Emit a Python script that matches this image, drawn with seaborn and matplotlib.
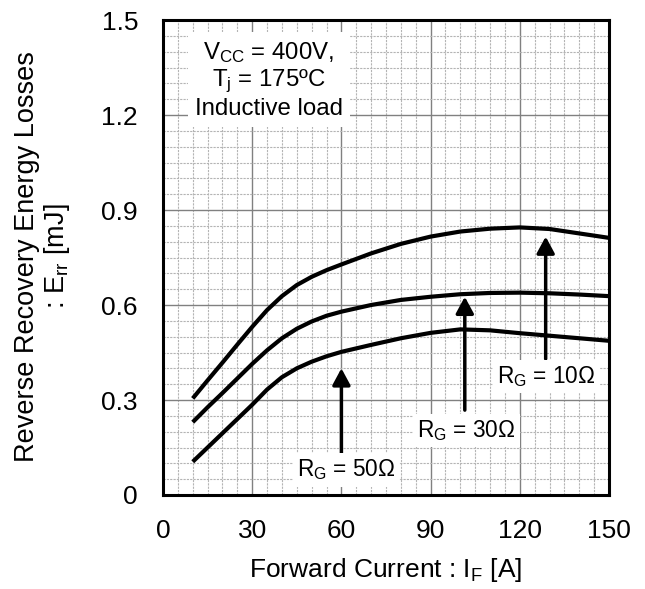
import numpy as np
import pandas as pd
import matplotlib
matplotlib.use("Agg")
import matplotlib.pyplot as plt
from matplotlib.ticker import MultipleLocator
import seaborn as sns

# Forward current (A) and reverse recovery energy (mJ) per gate resistance
forward_current = [10, 15, 20, 25, 30, 35, 40, 45, 50, 55, 60,
                   70, 80, 90, 100, 110, 120, 130, 140, 150]
err_rg10 = [0.305, 0.362, 0.418, 0.475, 0.531, 0.584, 0.628, 0.663, 0.689, 0.710, 0.728,
            0.763, 0.793, 0.816, 0.832, 0.841, 0.845, 0.840, 0.826, 0.812]
err_rg30 = [0.230, 0.277, 0.322, 0.368, 0.414, 0.457, 0.495, 0.525, 0.548, 0.566, 0.579,
            0.600, 0.616, 0.626, 0.634, 0.638, 0.639, 0.637, 0.633, 0.628]
err_rg50 = [0.105, 0.150, 0.195, 0.240, 0.285, 0.333, 0.372, 0.400, 0.421, 0.438, 0.452,
            0.474, 0.495, 0.512, 0.523, 0.520, 0.511, 0.503, 0.495, 0.487]
series_names = ["10", "30", "50"]

x_ticks = [0, 30, 60, 90, 120, 150]
y_ticks = [0, 0.3, 0.6, 0.9, 1.2, 1.5]
y_tick_labels = ["0", "0.3", "0.6", "0.9", "1.2", "1.5"]

sns.set_style("white")
plt.rcParams["font.family"] = ["Liberation Sans", "DejaVu Sans"]
plt.rcParams["mathtext.fontset"] = "custom"
plt.rcParams["mathtext.rm"] = "Liberation Sans"
plt.rcParams["mathtext.it"] = "Liberation Sans"
plt.rcParams["text.color"] = "black"
plt.rcParams["axes.labelcolor"] = "black"

df = pd.DataFrame({
    "IF": forward_current * 3,
    "Err": err_rg10 + err_rg30 + err_rg50,
    "RG": sum([[n] * len(forward_current) for n in series_names], []),
})

fig = plt.figure(figsize=(6.45, 5.89), dpi=100)
ax = fig.add_axes([163 / 645, 1 - 495 / 589, 446 / 645, 475 / 589])

sns.lineplot(data=df, x="IF", y="Err", hue="RG", palette=["black"] * 3,
             linewidth=3.0, legend=False, ax=ax, zorder=3)
for line in ax.lines:
    line.set_solid_capstyle("butt")
    line.set_solid_joinstyle("round")

ax.set_xlim(0, 150)
ax.set_ylim(0, 1.5)
ax.set_xticks(x_ticks)
ax.set_yticks(y_ticks)
ax.set_yticklabels(y_tick_labels)
ax.xaxis.set_minor_locator(MultipleLocator(5))
ax.yaxis.set_minor_locator(MultipleLocator(0.05))
ax.tick_params(which="both", length=0, labelsize=19, colors="black")
ax.tick_params(axis="x", pad=17)
ax.tick_params(axis="y", pad=18)

ax.grid(which="major", color="#808080", linewidth=1.0, linestyle="-", zorder=0)
ax.grid(which="minor", color="#b4b4b4", linewidth=0.8, linestyle=(0, (2, 1)), zorder=0)
ax.set_axisbelow(True)
for sp in ax.spines.values():
    sp.set_visible(True)
    sp.set_color("black")
    sp.set_linewidth(2.2)

ax.set_xlabel("Forward Current : I$_\\mathrm{F}$ [A]", fontsize=19)
ax.xaxis.set_label_coords(0.5, -(570 - 495) / 475)
ax.xaxis.label.set_va("center")
ax.set_ylabel("Reverse Recovery Energy Losses\n: E$_\\mathrm{rr}$ [mJ]", fontsize=19.5,
              linespacing=1.1, va="center", ha="center")
ax.yaxis.set_label_coords((43 - 163) / 446, 0.503)

# Test conditions box
ax.text(35.5, 1.31, "V$_\\mathrm{CC}$ = 400V,\nT$_\\mathrm{j}$ = 175ºC\nInductive load",
        ha="center", va="center", fontsize=17.3, linespacing=1.15, zorder=4,
        bbox=dict(facecolor="white", edgecolor="none", pad=5))

# Gate resistance arrows and labels
arrows = [
    (60, 0.133, 0.40, "R$_\\mathrm{G}$ = 50Ω", 61.5, 0.079),
    (101.5, 0.268, 0.626, "R$_\\mathrm{G}$ = 30Ω", 102, 0.205),
    (128.7, 0.43, 0.816, "R$_\\mathrm{G}$ = 10Ω", 129, 0.374),
]
for xa, y0, y1, label, xt, yt in arrows:
    ax.annotate("", xy=(xa, y1), xytext=(xa, y0), zorder=4,
                arrowprops=dict(arrowstyle="-|>,head_length=0.5,head_width=0.27",
                                mutation_scale=20, lw=2.5, color="black",
                                shrinkA=0, shrinkB=0))
    ax.text(xt, yt, label, ha="center", va="center", fontsize=16.3, zorder=4,
            bbox=dict(facecolor="white", edgecolor="none", pad=3))

fig.savefig("out.png", dpi=100)
